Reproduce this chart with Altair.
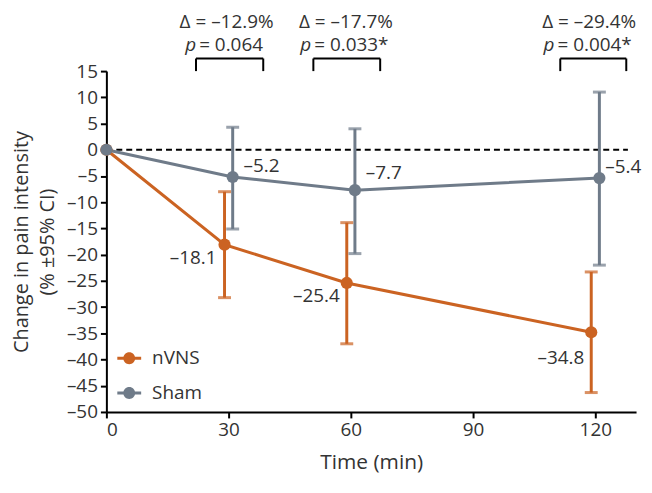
import altair as alt
import pandas as pd

# ---------------- data ----------------
groups = ["nVNS", "Sham"]
times = [0, 30, 60, 120]
nvns_mean = [0.0, -18.1, -25.4, -34.8]
nvns_low = [0.0, -28.2, -37.0, -46.3]
nvns_high = [0.0, -8.0, -13.9, -23.3]
sham_mean = [0.0, -5.2, -7.7, -5.4]
sham_low = [0.0, -15.1, -19.8, -22.0]
sham_high = [0.0, 4.3, 4.0, 11.0]
nvns_labels = ["", "–18.1", "–25.4", "–34.8"]
sham_labels = ["", "–5.2", "–7.7", "–5.4"]

comp_center = [29.5, 58.8, 118.5]
comp_delta = ["Δ = –12.9%", "Δ = –17.7%", "Δ = –29.4%"]
comp_p = [" = 0.064", " = 0.033*", " = 0.004*"]
bracket_start = [22.0, 50.8, 111.4]
bracket_end = [38.5, 67.2, 127.6]

ORANGE = "#CB6322"
GRAY = "#6F7B89"
FONT = "Open Sans"
TXT = "#333333"
FS = 19

rows = []
for g, m, lo, hi, lab in [
    ("nVNS", nvns_mean, nvns_low, nvns_high, nvns_labels),
    ("Sham", sham_mean, sham_low, sham_high, sham_labels),
]:
    for i, t in enumerate(times):
        rows.append({"group": g, "time": t, "mean": m[i], "low": lo[i], "high": hi[i], "label": lab[i], "idx": i})
df = pd.DataFrame(rows)

W, H = 533, 343
XMAX = 130

base = alt.Chart(df).transform_calculate(
    xp="datum.time == 0 ? 0 : datum.time + (datum.group == 'nVNS' ? -1 : 1)"
)

xscale = alt.Scale(domain=[0, XMAX], nice=False, zero=False)
yscale = alt.Scale(domain=[-50, 15], nice=False, zero=False)
cscale = alt.Scale(domain=groups, range=[ORANGE, GRAY])

neg_expr = "datum.value < 0 ? '–' + abs(datum.value) : '' + datum.value"
XAX = alt.Axis(values=[0, 30, 60, 90, 120], title="Time (min)", grid=False,
               labelFontSize=FS, labelOverlap=False)
YAX = alt.Axis(values=list(range(-50, 16, 5)), labelExpr=neg_expr,
               labelFontSize=FS, labelOverlap=False,
               title=["Change in pain intensity", "(% ±95% CI)"], grid=False)


def xq(field):
    return alt.X(field, scale=xscale, axis=XAX)


def yq(field):
    return alt.Y(field, scale=yscale, axis=YAX)


def yd(v):
    return alt.YDatum(v, scale=yscale, axis=YAX)


legend_path = ("M-1,-0.125H1V0.125H-1Z"
               "M0.5,0A0.5,0.5 0 1,1 -0.5,0A0.5,0.5 0 1,1 0.5,0Z")
LEG = alt.Legend(orient="none", legendX=11, legendY=277, title=None,
                 symbolType=legend_path, symbolSize=576, symbolStrokeWidth=0,
                 symbolOpacity=1, labelFontSize=FS, labelFont=FONT, labelColor=TXT,
                 labelOffset=11, rowPadding=13, padding=0)
C = alt.Color("group:N", scale=cscale, legend=LEG)

# zero reference line
zero = alt.Chart(pd.DataFrame({"x": [0], "x2": [128], "y": [0]})).mark_rule(
    color="black", strokeWidth=2, strokeDash=[6, 4]
).encode(x=xq("x:Q"), x2="x2:Q", y=yq("y:Q"))

eb = base.transform_filter("datum.time > 0")
err = eb.mark_rule(strokeWidth=3).encode(
    x=xq("xp:Q"), y=yq("low:Q"), y2="high:Q", color=C)
caps_lo = eb.mark_tick(orient="horizontal", size=13, thickness=3).encode(
    x=xq("xp:Q"), y=yq("low:Q"), color=C)
caps_hi = eb.mark_tick(orient="horizontal", size=13, thickness=3).encode(
    x=xq("xp:Q"), y=yq("high:Q"), color=C)
lines = base.mark_line(strokeWidth=3).encode(
    x=xq("xp:Q"), y=yq("mean:Q"), detail="group:N", order="idx:Q", color=C)
points = base.mark_circle(size=150, opacity=1).encode(
    x=xq("xp:Q"), y=yq("mean:Q"), color=C)

# value labels with individual offsets
label_style = {
    ("nVNS", 1): ("right", -8, 13),
    ("nVNS", 2): ("right", -7, 13),
    ("nVNS", 3): ("right", -7, 26),
    ("Sham", 1): ("left", 11, -11),
    ("Sham", 2): ("left", 11, -17),
    ("Sham", 3): ("left", 6, -11),
}
label_layers = []
for (g, i), (al, dx, dy) in label_style.items():
    label_layers.append(
        base.transform_filter(f"datum.group == '{g}' && datum.idx == {i}").mark_text(
            align=al, baseline="middle", dx=dx, dy=dy, fontSize=FS, font=FONT, color=TXT
        ).encode(x=xq("xp:Q"), y=yq("mean:Q"), text="label:N")
    )

# comparison annotations
cdf = pd.DataFrame({"c": comp_center, "delta": comp_delta, "rest": comp_p,
                    "b1": bracket_start, "b2": bracket_end})
cbase = alt.Chart(cdf)
PX_PER_UNIT = W / XMAX
delta_txt = cbase.mark_text(fontSize=FS, font=FONT, color=TXT, baseline="middle").encode(
    x=xq("c:Q"), y=yd(24.3), text="delta:N")
pcalc = cbase.transform_calculate(
    pw="11.4",
    tot="11.4 + 3 + length(datum.rest) * 8.7",
).transform_calculate(
    px=f"datum.c + (datum.pw - datum.tot / 2) / {PX_PER_UNIT}",
    rx=f"datum.c + (datum.pw + 3 - datum.tot / 2) / {PX_PER_UNIT}",
)
p_it = pcalc.mark_text(fontSize=FS, font=FONT, color=TXT, fontStyle="italic",
                       align="right", baseline="middle", text="p").encode(
    x=xq("px:Q"), y=yd(19.95))
p_rest = pcalc.mark_text(fontSize=FS, font=FONT, color=TXT, align="left",
                         baseline="middle").encode(
    x=xq("rx:Q"), y=yd(19.95), text="rest:N")
br_h = cbase.mark_rule(color="black", strokeWidth=2).encode(
    x=xq("b1:Q"), x2="b2:Q", y=yd(17.4))
br_l = cbase.mark_rule(color="black", strokeWidth=2).encode(
    x=xq("b1:Q"), y=yd(17.4), y2=alt.datum(15))
br_r = cbase.mark_rule(color="black", strokeWidth=2).encode(
    x=xq("b2:Q"), y=yd(17.4), y2=alt.datum(15))

chart = alt.layer(
    zero, err, caps_lo, caps_hi, lines, points, *label_layers,
    delta_txt, p_it, p_rest, br_h, br_l, br_r
).properties(
    width=W, height=H,
    autosize=alt.AutoSizeParams(type="none"),
    padding={"left": 99, "top": 62, "right": 8, "bottom": 72},
).configure(font=FONT).configure_view(stroke=None).configure_axis(
    domainColor="black", domainWidth=2, tickColor="black", tickWidth=2, tickSize=6,
    labelFontSize=FS, labelFont=FONT, labelColor=TXT, labelPadding=3,
    titleFont=FONT, titleColor=TXT, titleFontWeight="normal",
).configure_axisY(titleFontSize=20, titlePadding=9, titleLineHeight=26).configure_axisX(
    titleFontSize=21, titlePadding=12)

chart.save("out.html", embed_options={"renderer": "svg", "actions": False})
